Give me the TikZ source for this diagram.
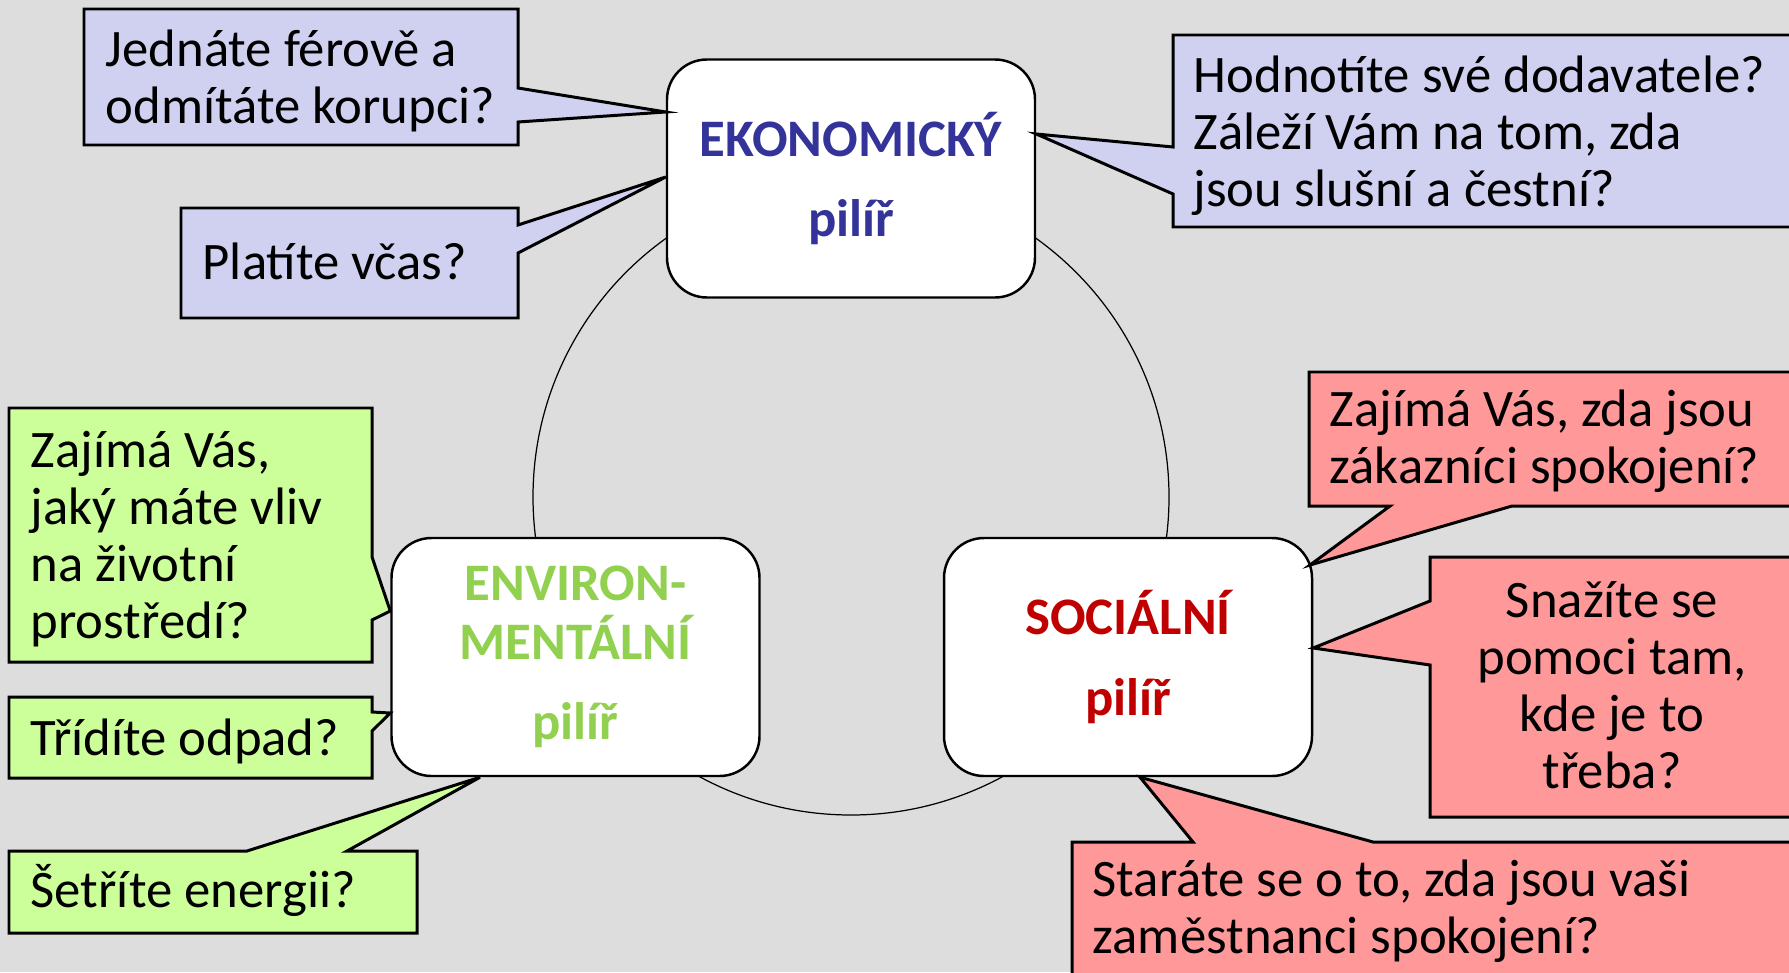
\documentclass[tikz,border=0pt]{standalone}
\usepackage{fontspec}
\setmainfont{Carlito}
\definecolor{bg}{RGB}{221,221,221}
\definecolor{askblue}{RGB}{208,208,240}
\definecolor{askgreen}{RGB}{204,255,153}
\definecolor{askred}{RGB}{255,153,153}
\definecolor{ekoblue}{RGB}{51,51,153}
\definecolor{envgreen}{RGB}{146,208,80}
\definecolor{socred}{RGB}{192,0,0}

\begin{document}
\begin{tikzpicture}[x=0.1mm,y=-0.1mm,
    pillar/.style={draw,fill=white,line width=0.7pt,rounded corners=4mm,
      minimum width=36.8mm,minimum height=23.8mm,align=center,
      font=\fontsize{15pt}{16.8pt}\selectfont\bfseries},
    bubble/.style={draw,line width=0.85pt,line join=miter},
    question/.style={align=left,inner sep=0pt,font=\fontsize{15pt}{16.2pt}\selectfont}]
  \useasboundingbox (0,0) rectangle (1789,972);
  \fill[bg] (0,0) rectangle (1789,972);
  \draw[line width=0.35pt] (851,497) circle[radius=31.8mm];

  \node[pillar,text=ekoblue] (eko) at (851,178.5) {EKONOMICKÝ\\[6pt]pilíř};
  \node[pillar,text=envgreen] (env) at (575.5,657) {ENVIRON-\\MENTÁLNÍ\\[6pt]pilíř};
  \node[pillar,text=socred] (soc) at (1128,657) {SOCIÁLNÍ\\[6pt]pilíř};

  \filldraw[bubble,fill=askblue] (84,9) -- (518,9) -- (518,88) -- (eko.west |- 0,112)
    -- (518,122) -- (518,145) -- (84,145) -- cycle;
  \node[question,anchor=west] (fair) at (105,81) {Jednáte férově a\\odmítáte korupci?};
  \filldraw[bubble,fill=askblue] (181,208) -- (518,208) -- (518,225) -- (eko.west |- 0,177)
    -- (518,253) -- (518,318) -- (181,318) -- cycle;
  \node[question,anchor=west] (pay) at (202,261) {Platíte včas?};
  \filldraw[bubble,fill=askblue] (1173,35) -- (1800,35) -- (1800,227) -- (1173,227)
    -- (1173,194) -- (eko.east |- 0,134) -- (1173,147) -- cycle;
  \node[question,anchor=west] (supp) at (1193,135.5) {Hodnotíte své dodavatele?\\Záleží Vám na tom, zda\\jsou slušní a čestní?};

  \filldraw[bubble,fill=askgreen] (9,408) -- (372,408) -- (372,557) -- (env.west |- 0,611)
    -- (372,620) -- (372,662) -- (9,662) -- cycle;
  \node[question,anchor=west] (influence) at (30,539) {Zajímá Vás,\\jaký máte vliv\\na životní\\prostředí?};
  \filldraw[bubble,fill=askgreen] (9,697) -- (372,697) -- (372,712) -- (env.west |- 0,713)
    -- (372,731) -- (372,778) -- (9,778) -- cycle;
  \node[question,anchor=west] (waste) at (30,741) {Třídíte odpad?};
  \filldraw[bubble,fill=askgreen] (9,851) -- (247,851) -- (env.south -| 480,0) -- (347,851)
    -- (417,851) -- (417,933) -- (9,933) -- cycle;
  \node[question,anchor=west] (energy) at (30,890.5) {Šetříte energii?};

  \filldraw[bubble,fill=askred] (1309,372) -- (1800,372) -- (1800,506) -- (1512,506)
    -- (1310,565) -- (1390,506) -- (1309,506) -- cycle;
  \node[question,anchor=west] (cust) at (1329,441.5) {Zajímá Vás, zda jsou\\zákazníci spokojení?};
  \filldraw[bubble,fill=askred] (1430,557) -- (1800,557) -- (1800,817) -- (1430,817)
    -- (1430,665) -- (soc.east |- 0,648) -- (1430,601) -- cycle;
  \node[question,align=center] (help) at (1612,685) {Snažíte se\\pomoci tam,\\kde je to\\třeba?};
  \filldraw[bubble,fill=askred] (1072,842) -- (1193,842) -- (soc.south -| 1140,0) -- (1373,842)
    -- (1800,842) -- (1800,1000) -- (1072,1000) -- cycle;
  \node[question,anchor=west] (staff) at (1092,911) {Staráte se o to, zda jsou vaši\\zaměstnanci spokojení?};
\end{tikzpicture}
\end{document}
